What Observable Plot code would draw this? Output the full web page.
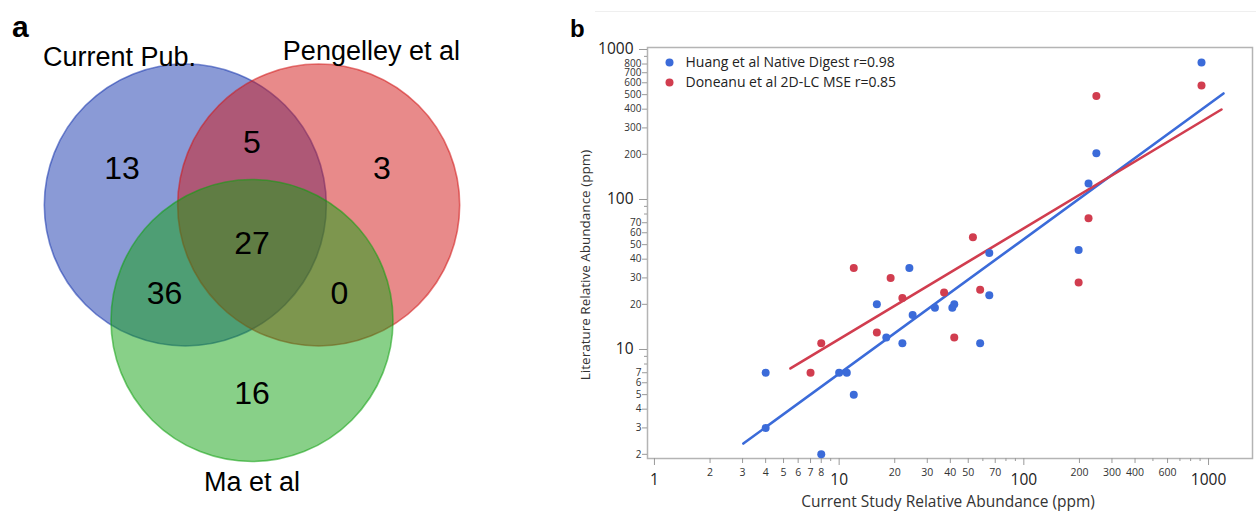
<!DOCTYPE html>
<html>
<head>
<meta charset="utf-8">
<script src="https://cdn.jsdelivr.net/npm/d3@7"></script>
<script src="https://cdn.jsdelivr.net/npm/@observablehq/plot@0.6"></script>
<style>
html, body { margin: 0; padding: 0; background: #fff; }
#wrap { position: relative; width: 1256px; height: 512px; overflow: hidden; background: #fff; }
#venn { position: absolute; left: 0; top: 0; }
#scatter { position: absolute; left: 560px; top: 0; }
.panel { position: absolute; font-family: "Liberation Sans", Arial, sans-serif; font-weight: bold; color: #000; line-height: 1; }
#topline { position: absolute; left: 595px; top: 11px; width: 661px; height: 1px; background: #efefef; }
</style>
</head>
<body>
<div id="wrap">
  <div id="topline"></div>
  <div id="venn"></div>
  <div id="scatter"></div>
  <div class="panel" style="left:12px;top:12px;font-size:30px;">a</div>
  <div class="panel" style="left:570px;top:17px;font-size:24px;">b</div>
</div>
<script>
// ---------------- DATA ----------------
// Panel a: Venn diagram
const setNames = ["Current Pub.", "Pengelley et al", "Ma et al"];
const regionMembers = ["A", "B", "C", "AB", "AC", "BC", "ABC"];
const regionCounts = [13, 3, 16, 5, 36, 0, 27];

// Panel b: log-log scatter
const huangX = [4, 4, 8, 10, 11, 12, 16, 18, 22, 24, 25, 33, 41, 42, 58, 65, 65, 198, 224, 247, 916];
const huangY = [7, 3, 2, 7, 7, 5, 20, 12, 11, 35, 17, 19, 19, 20, 11, 44, 23, 46, 128, 203, 820];
const donX = [7, 8, 12, 16, 19, 22, 37, 42, 53, 58, 198, 224, 247, 916];
const donY = [7, 11, 35, 13, 30, 22, 24, 12, 56, 25, 28, 75, 490, 575];
// fitted lines (endpoints)
const fitHuangX = [3.03, 1205];
const fitHuangY = [2.36, 509];
const fitDonX = [5.45, 1175];
const fitDonY = [7.47, 398];
const seriesNames = ["Huang et al Native Digest", "Doneanu et al 2D-LC MSE"];
const seriesR = ["r=0.98", "r=0.85"];

const xMajor = [1, 10, 100, 1000];
const xMinorLabeled = [2, 3, 4, 5, 6, 7, 8, 20, 30, 40, 50, 70, 200, 300, 400, 600];
const xMinorUnlabeled = [9, 60, 80, 90, 500, 700, 800, 900];
const yMajor = [10, 100, 1000];
const yMinorLabeled = [2, 3, 4, 5, 6, 7, 20, 30, 40, 50, 60, 70, 200, 300, 400, 500, 600, 700, 800];
const yMinorUnlabeled = [8, 9, 80, 90, 900];

const xTitle = "Current Study Relative Abundance (ppm)";
const yTitle = "Literature Relative Abundance (ppm)";

// ---------------- STYLE / LAYOUT ----------------
const vennColors = ["#1535ad", "#d11515", "#11a111"];
const V = { cx: 251.5, cy: 243, d: 77, R: 141, setAngle: { A: 210, B: 330, C: 90 },
            single: 150, pair: 101, catDist: 162, catAngles: [-24, 19, 180] };
const BLUE = "#3b6bd9", RED = "#d13d4f";
const SFONT = "'Open Sans', 'Noto Sans', sans-serif";
const TICK = "#9a9a9a";

// ---------------- VENN ----------------
const keys = ["A", "B", "C"];
const rad = a => a * Math.PI / 180;
const circles = keys.map((k, i) => {
  const a = rad(V.setAngle[k]);
  return { key: k, name: setNames[i], color: vennColors[i],
           x: V.cx + V.d * Math.cos(a), y: V.cy + V.d * Math.sin(a) };
});
const catLabels = circles.map((c, i) => {
  const t = rad(V.catAngles[i]);
  return { name: c.name, x: c.x + V.catDist * Math.sin(t), y: c.y - V.catDist * Math.cos(t) };
});
const regions = regionMembers.map((m, i) => {
  let x = V.cx, y = V.cy;
  if (m.length === 1) {
    const a = rad(V.setAngle[m]);
    x += V.single * Math.cos(a); y += V.single * Math.sin(a);
  } else if (m.length === 2) {
    const excl = keys.find(k => !m.includes(k));
    const a = rad(V.setAngle[excl] + 180);
    x += V.pair * Math.cos(a); y += V.pair * Math.sin(a);
  }
  return { x, y, count: regionCounts[i] };
});

const venn = Plot.plot({
  width: 560, height: 512,
  margin: 0,
  x: { domain: [0, 560], range: [0, 560], axis: null },
  y: { domain: [0, 512], range: [0, 512], axis: null },
  style: { fontFamily: "'Liberation Sans', Arial, sans-serif", background: "transparent", overflow: "visible" },
  marks: [
    ...circles.map(c => Plot.dot([c], {
      x: "x", y: "y", r: V.R, fill: c.color, fillOpacity: 0.5,
      stroke: c.color, strokeOpacity: 0.55, strokeWidth: 1.6
    })),
    Plot.text(regions, { x: "x", y: "y", text: d => String(d.count), fontSize: 32, fill: "#000" }),
    Plot.text(catLabels, { x: "x", y: "y", text: "name", fontSize: 27, fill: "#000" })
  ]
});
document.getElementById("venn").appendChild(venn);

// ---------------- SCATTER ----------------
const pts = (xs, ys) => xs.map((x, i) => ({ x, y: ys[i] }));
const str = d => String(d);
const legendMarks = seriesNames.flatMap((n, i) => [
  Plot.dot([0], { frameAnchor: "top-left", dx: 22, dy: 15 + 20 * i, r: 4, fill: [BLUE, RED][i] }),
  Plot.text([`${n} ${seriesR[i]}`], { frameAnchor: "top-left", dx: 38, dy: 15 + 20 * i,
    text: d => d, textAnchor: "start", lineAnchor: "middle", fontSize: 14, fill: "#222" })
]);
const tickOnly = (k, ticks, size) =>
  (k === "x" ? Plot.axisX : Plot.axisY)(ticks, { tickSize: size, stroke: TICK, fill: "none", label: null });

const scatter = Plot.plot({
  width: 696, height: 512,
  marginLeft: 87, marginRight: 4, marginTop: 47, marginBottom: 54,
  style: { fontFamily: SFONT, background: "transparent", overflow: "visible", color: "#222" },
  x: { type: "log", domain: [0.917, 1730], label: null },
  y: { type: "log", domain: [1.876, 1031], label: null },
  marks: [
    Plot.frame({ stroke: "#b4b4b4", strokeWidth: 1.5 }),
    // tick marks
    tickOnly("x", xMajor, 7), tickOnly("x", xMinorLabeled, 5), tickOnly("x", xMinorUnlabeled, 3),
    tickOnly("y", yMajor, 8), tickOnly("y", yMinorLabeled, 5), tickOnly("y", yMinorUnlabeled, 3),
    // tick labels
    Plot.text(xMajor, { x: d => d, frameAnchor: "bottom", lineAnchor: "top", dy: 15, text: str, fontSize: 15.5, fill: "#222" }),
    Plot.text(xMinorLabeled, { x: d => d, frameAnchor: "bottom", lineAnchor: "top", dy: 10, text: str, fontSize: 10.5, fill: "#333" }),
    Plot.text(yMajor, { y: d => d, frameAnchor: "left", textAnchor: "end", lineAnchor: "middle", dx: -14, text: str, fontSize: 15.5, fill: "#222" }),
    Plot.text(yMinorLabeled, { y: d => d, frameAnchor: "left", textAnchor: "end", lineAnchor: "middle", dx: -6, text: str, fontSize: 10, fill: "#333" }),
    // axis titles
    Plot.text([xTitle], { frameAnchor: "bottom", textAnchor: "middle", lineAnchor: "middle", dx: -2, dy: 44, text: d => d, fontSize: 15.5, fill: "#333" }),
    Plot.text([yTitle], { frameAnchor: "left", textAnchor: "middle", lineAnchor: "middle", dx: -62, dy: 12, rotate: -90, text: d => d, fontSize: 13.5, fill: "#333" }),
    // data
    Plot.line(pts(fitHuangX, fitHuangY), { x: "x", y: "y", stroke: BLUE, strokeWidth: 2.6 }),
    Plot.line(pts(fitDonX, fitDonY), { x: "x", y: "y", stroke: RED, strokeWidth: 2.6 }),
    Plot.dot(pts(huangX, huangY), { x: "x", y: "y", r: 4, fill: BLUE }),
    Plot.dot(pts(donX, donY), { x: "x", y: "y", r: 4, fill: RED }),
    ...legendMarks
  ]
});
document.getElementById("scatter").appendChild(scatter);
</script>
</body>
</html>
